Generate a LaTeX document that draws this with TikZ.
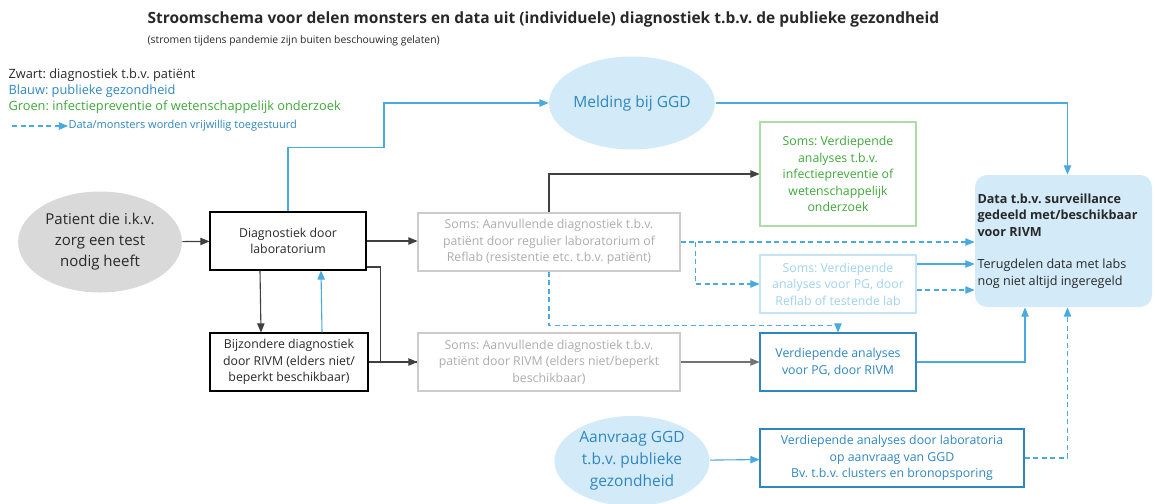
\documentclass[tikz,border=0pt]{standalone}
\usepackage{fontspec}
\setmainfont{Open Sans}
\usetikzlibrary{arrows, shapes, positioning}
\frenchspacing

\definecolor{pgblue}{RGB}{46,134,193}
\definecolor{lineblue}{RGB}{72,170,222}
\definecolor{fillblue}{RGB}{211,235,248}
\definecolor{groen}{RGB}{62,168,58}
\definecolor{lichtgroen}{RGB}{172,221,164}
\definecolor{grijs}{RGB}{204,204,204}
\definecolor{grijstekst}{RGB}{172,172,172}
\definecolor{lichtblauw}{RGB}{196,228,246}
\definecolor{lichtblauwtekst}{RGB}{160,210,240}
\definecolor{grijsvulling}{RGB}{217,217,217}
\definecolor{tekst}{RGB}{40,40,40}

\begin{document}
\begin{tikzpicture}[x=1pt, y=-1pt, line width=1.1pt, >=triangle 45,
                    text=tekst,
                    lab node/.style= {rectangle,
                      draw,
                      minimum width=156pt,
                      minimum height=58pt,
                      inner sep=2pt,
                      align=center,
                      font=\fontsize{12.3}{16.5}\selectfont},
                    soms node/.style= {lab node,
                      draw=grijs,
                      text=grijstekst,
                      minimum width=262pt},
                    ggd node/.style= {ellipse,
                      fill=fillblue,
                      minimum width=155pt,
                      minimum height=93pt,
                      inner sep=0pt,
                      align=center,
                      text=pgblue,
                      font=\fontsize{15.5}{22}\selectfont},
                    zwart/.style= {draw=black!75},
                    blauw/.style= {draw=lineblue},
                    vrijwillig/.style= {draw=lineblue, dash pattern=on 5pt off 3.5pt},
                    legenda/.style= {anchor=west, inner sep=0pt,
                      font=\fontsize{12.8}{15}\selectfont}]

  \useasboundingbox (0,0) rectangle (1155,503);

  % titel
  \node (t1) [anchor=west, inner sep=0pt, font=\fontsize{15.5}{18}\bfseries]
    at (147,19) {Stroomschema voor delen monsters en data uit (individuele) diagnostiek t.b.v. de publieke gezondheid};
  \node (t2) [anchor=west, inner sep=0pt, font=\fontsize{10.4}{12}\selectfont]
    at (147,41) {(stromen tijdens pandemie zijn buiten beschouwing gelaten)};

  % legenda
  \node[legenda] (l1) at (8,75) {Zwart: diagnostiek t.b.v. patiënt};
  \node[legenda, text=pgblue] (l2) at (8,91) {Blauw: publieke gezondheid};
  \node[legenda, text=groen] (l3) at (8,107) {Groen: infectiepreventie of wetenschappelijk onderzoek};
  \node[legenda, text=pgblue, font=\fontsize{11}{13}\selectfont] (l4) at (68,126) {Data/monsters worden vrijwillig toegestuurd};
  \coordinate (l0) at (12,126);
  \draw[vrijwillig, ->] (l0) -- (l4.west);

  % knopen
  \node[ellipse, fill=grijsvulling, minimum width=154pt, minimum height=101pt, align=center,
        font=\fontsize{15}{21}\selectfont] (1) at (100,242) {Patient die i.k.v.\\zorg een test\\nodig heeft};
  \node[lab node] (2) at (288,241) {Diagnostiek door\\laboratorium};
  \node[lab node, minimum width=158pt] (3) at (289,362) {Bijzondere diagnostiek\\door RIVM (elders niet/\\beperkt beschikbaar)};
  \node[soms node] (4) at (549,242) {Soms: Aanvullende diagnostiek t.b.v.\\patiënt door regulier laboratorium of\\Reflab (resistentie etc. t.b.v. patiënt)};
  \node[soms node] (5) at (549,362) {Soms: Aanvullende diagnostiek t.b.v.\\patiënt door RIVM (elders niet/beperkt\\beschikbaar)};
  \node[lab node, draw=lichtgroen, text=groen, minimum height=104pt] (6) at (838,174)
    {Soms: Verdiepende\\analyses t.b.v.\\infectiepreventie of\\wetenschappelijk\\onderzoek};
  \node[lab node, draw=lichtblauw, text=lichtblauwtekst] (7) at (838,284)
    {Soms: Verdiepende\\analyses voor PG, door\\Reflab of testende lab};
  \node[lab node, draw=pgblue, text=pgblue] (8) at (838,362) {Verdiepende analyses\\voor PG, door RIVM};
  \node[rectangle, rounded corners=12pt, fill=fillblue, minimum width=177pt, minimum height=132pt,
        text width=172pt, inner xsep=2.5pt, align=flush left, font=\fontsize{12.6}{16.5}\selectfont] (9) at (1063.5,241)
    {\textbf{Data t.b.v. surveillance}\\\textbf{gedeeld met/beschikbaar}\\\textbf{voor RIVM}\\[16pt]Terugdelen data met labs\\nog niet altijd ingeregeld};
  \node[ggd node] (10) at (632,103) {Melding bij GGD};
  \node[ggd node, minimum height=90pt] (11) at (632,461) {Aanvraag GGD\\t.b.v. publieke\\gezondheid};
  \node[lab node, draw=pgblue, text=pgblue, minimum width=264pt] (12) at (892,458)
    {Verdiepende analyses door laboratoria\\op aanvraag van GGD\\Bv. t.b.v. clusters en bronopsporing};

  % zwarte lijnen
  \draw[zwart, ->] (1) -- (2);
  \draw[zwart, ->] (2.east) -- (2.east -| 4.west);
  \draw[zwart, ->] ([xshift=-28pt]2.south) -- ([xshift=-28pt]3.north);
  \draw[zwart] ([yshift=-26pt]2.east) -- ++(14,0) |- (5);
  \draw[zwart, ->] (3) -- (5);
  \draw[zwart, ->] (4.north) |- (6);
  \draw[draw=black!55, ->] (5) -- (8);

  % blauwe lijnen
  \draw[blauw, ->] ([xshift=33pt]3.north) -- ([xshift=33pt]2.south);
  \draw[blauw, ->] (2.north) -- ++(0,-64) -- ++(96,0) |- (10);
  \draw[blauw, ->] (10.east) -| ([xshift=4pt]9.north);
  \draw[blauw, ->] ([yshift=20pt]7.east) -- ([yshift=20pt]7.east -| 9.west);
  \draw[blauw, ->] (8.east) -| ([xshift=-38.5pt]9.south);
  \draw[blauw, ->] (11) -- (12);

  % gestippelde lijnen
  \draw[vrijwillig, ->] (4.east) -- (4.east -| 9.west);
  \draw[vrijwillig, ->] ([xshift=15pt]4.east) |- (7);
  \draw[vrijwillig, ->] (4.south) -- ++(0,54) -| (8.north);
  \draw[vrijwillig, ->] ([yshift=-6pt]7.east) -- ([yshift=-6pt]7.east -| 9.west);
  \draw[vrijwillig, ->] (12.east) -| ([xshift=4pt]9.south);
\end{tikzpicture}
\end{document}
